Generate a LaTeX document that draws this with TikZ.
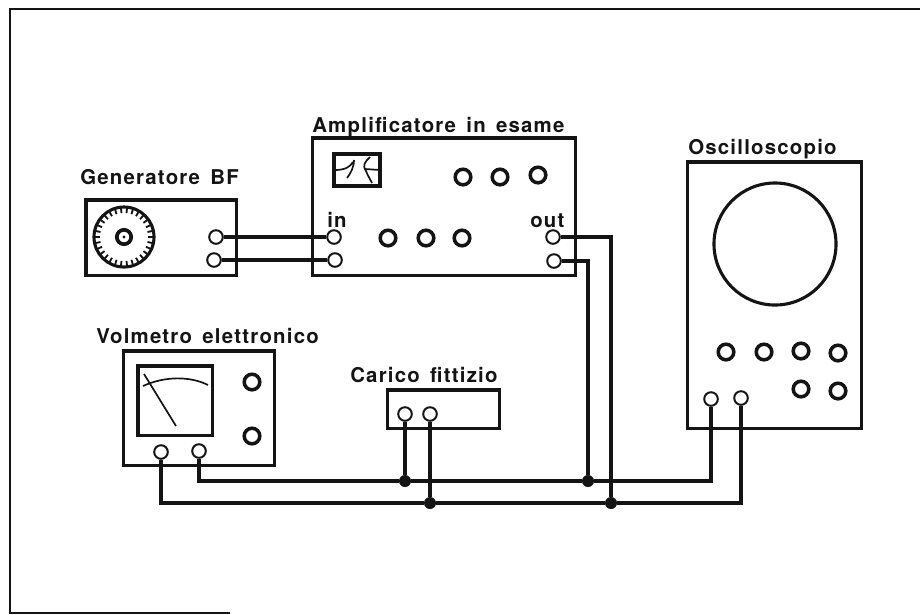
\documentclass[tikz,border=0pt]{standalone}
\usepackage{fontspec}
\usetikzlibrary{positioning}
\newfontfamily\lblfont[LetterSpace=6,WordSpace=1.5]{TeX Gyre Heros}
\definecolor{ink}{HTML}{141414}

\begin{document}
\begin{tikzpicture}[x=0.025cm, y=-0.025cm, ink,
      panel/.style={draw=ink, line width=2.16pt, fill=none, anchor=north west, inner sep=0pt, outer sep=0pt},
      lbl/.style={anchor=base west, inner sep=0pt, font=\lblfont\bfseries\fontsize{14.5}{16}\selectfont},
      knob/.style={circle, draw=ink, line width=2.5pt, inner sep=0pt, minimum size=0.39cm},
      term/.style={circle, draw=ink, line width=1.4pt, fill=white, inner sep=0pt, minimum size=0.34cm},
      junc/.style={circle, fill=ink, inner sep=0pt, minimum size=0.3cm},
      wire/.style={line width=2.16pt, draw=ink}]
    \useasboundingbox (0,0) rectangle (920,614);
    % sheet border
    \draw[line width=1.5pt] (920,9) -- (10,9) -- (10,613) -- (230,613);
    % generator
    \node[panel, minimum width=3.75cm, minimum height=1.875cm] (gen) at (86,200) {};
    \node[lbl] (genlbl) at (80,184) {Generatore BF};
    \node[circle, draw=ink, line width=2.2pt, inner sep=0pt, minimum size=1.5cm] (dial) at (124,237) {};
    \node[circle, draw=ink, line width=2.6pt, inner sep=0pt, minimum size=0.36cm] (hub) at (124,237) {};
    \foreach \a in {0,12,...,348}
      \draw[line width=1.3pt] ([shift={(\a:29)}]dial.center) -- ([shift={(\a:24)}]dial.center);
    \fill (hub.center) circle (1.6);
    \node[term] (gen1) at (216,237) {};
    \node[term] (gen2) at (214,260) {};
    % amplifier
    \node[panel, minimum width=6.575cm, minimum height=3.425cm] (amp) at (312.5,138) {};
    \node[lbl] (amplbl) at (312,132) {Amplificatore in esame};
    \node[panel, minimum width=1.15cm, minimum height=0.8cm] (disp) at (334,154) {};
    \draw[line width=1.2pt] (335,170) .. controls (345,170) and (350,167) .. (353,162)
      (354,160) .. controls (354,168) and (350,174) .. (347,178)
      (370,157) .. controls (365,162) and (362,165) .. (366,171) .. controls (368,176) and (370,179) .. (372,183)
      (365,169) -- (380,170);
    \foreach \n/\x/\y in {a/463/177, b/500/177, c/538/175, d/388/238, e/426/238, f/462/238}
      \node[knob] (amp\n) at (\x,\y) {};
    \node[term] (in1) at (334,237) {};
    \node[term] (in2) at (335,260) {};
    \node[term] (out1) at (553,237) {};
    \node[term] (out2) at (554,261) {};
    \node[lbl] (inlbl) at (327,227) {in};
    \node[lbl] (outlbl) at (530,227) {out};
    % voltmeter
    \node[panel, minimum width=3.775cm, minimum height=2.85cm] (volt) at (123.5,351) {};
    \node[lbl] (voltlbl) at (96,343) {Volmetro elettronico};
    \node[panel, minimum width=1.85cm, minimum height=1.725cm] (meter) at (138,366) {};
    \draw[line width=1.2pt] (143,386) .. controls (165,376) and (190,376) .. (208,385);
    \draw[line width=1.2pt] (144,374) -- (176,426);
    \node[knob] (volta) at (252,382) {};
    \node[knob] (voltb) at (252,436) {};
    \node[term] (volt1) at (161,452) {};
    \node[term] (volt2) at (199,451) {};
    % load
    \node[panel, minimum width=2.8cm, minimum height=0.95cm] (load) at (387.5,390) {};
    \node[lbl] (loadlbl) at (350,382) {Carico fittizio};
    \node[term] (load1) at (405,414) {};
    \node[term] (load2) at (430,414) {};
    % oscilloscope
    \node[panel, minimum width=4.35cm, minimum height=6.65cm] (scope) at (687.5,162) {};
    \node[lbl] (scopelbl) at (688,154) {Oscilloscopio};
    \node[circle, draw=ink, line width=2.2pt, inner sep=0pt, minimum size=3.05cm] (tube) at (775,244) {};
    \foreach \n/\x/\y in {a/726/352, b/764/352, c/801/351, d/838/353, e/801/389, f/838/391}
      \node[knob] (scope\n) at (\x,\y) {};
    \node[term] (scope1) at (711,399) {};
    \node[term] (scope2) at (741,398) {};
    % junctions and wiring
    \node[junc] (j1) at (405,481) {};
    \node[junc] (j2) at (430,503) {};
    \node[junc] (j3) at (588,481) {};
    \node[junc] (j4) at (611,503) {};
    \draw[wire] (gen1) -- (in1);
    \draw[wire] (gen2) -- (in2);
    \draw[wire] (out1) -| (j4);
    \draw[wire] (out2) -| (j3);
    \draw[wire] (load1) -- (j1);
    \draw[wire] (load2) -- (j2);
    \draw[wire] (volt2) |- (j1) -- (j3) -| (scope1);
    \draw[wire] (volt1) |- (j2) -- (j4) -| (scope2);
  \end{tikzpicture}
\end{document}
